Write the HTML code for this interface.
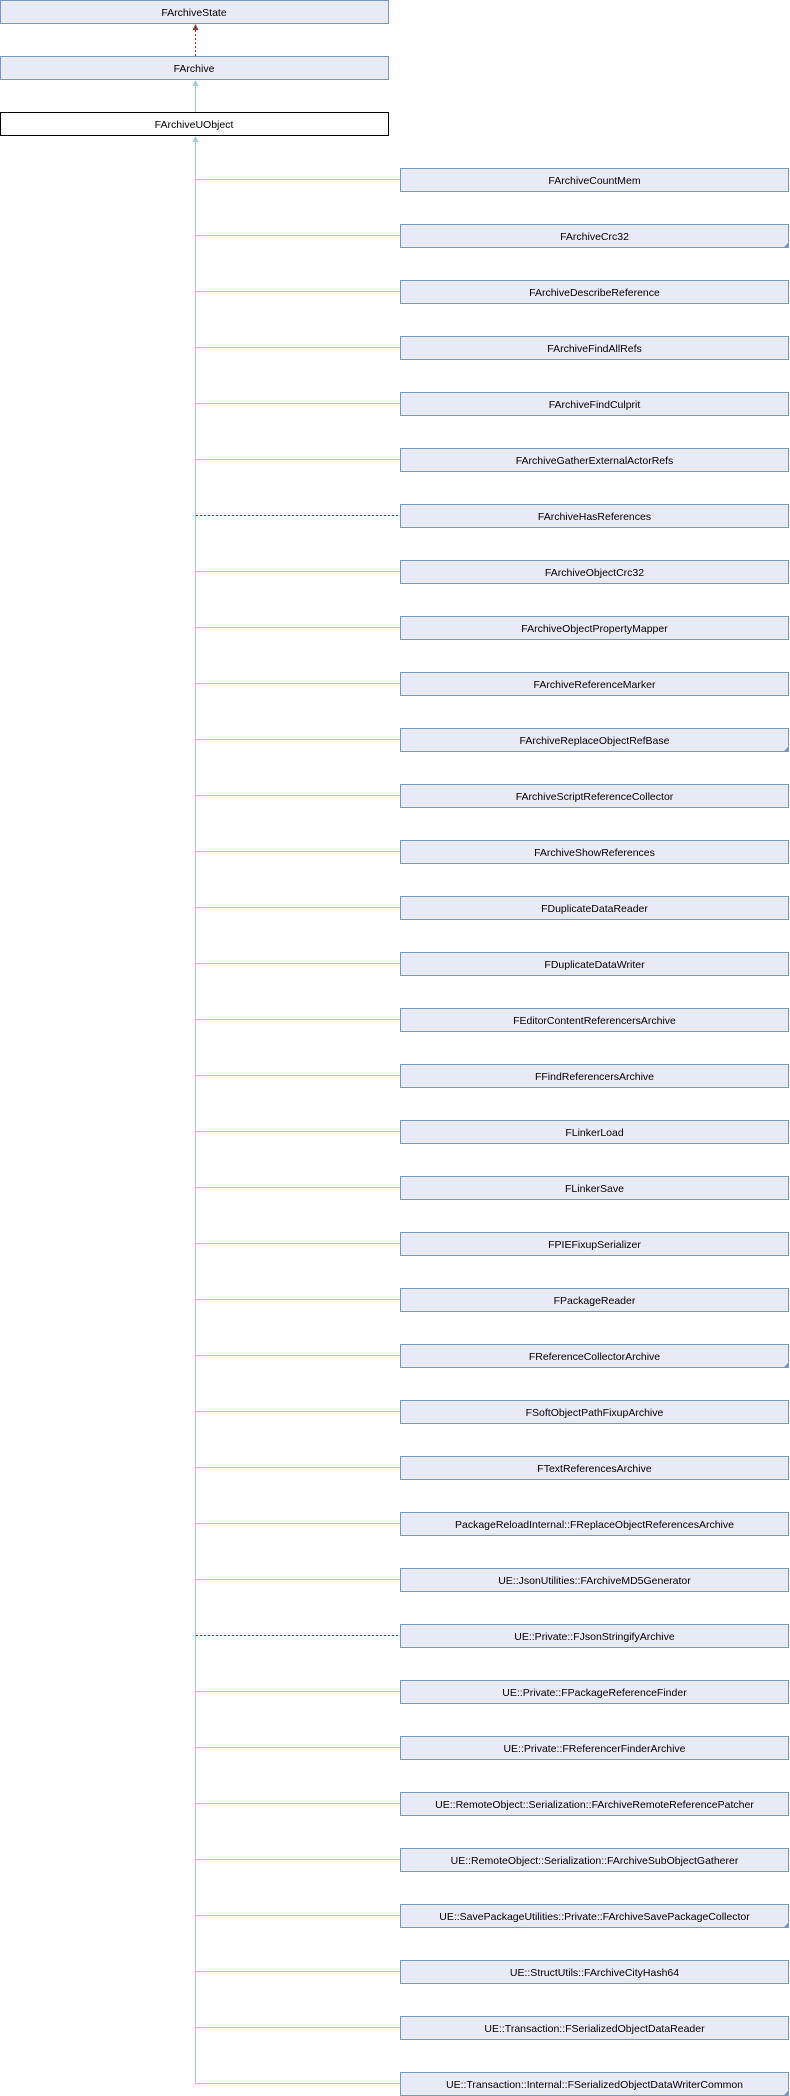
<!DOCTYPE html>
<html><head><meta charset="utf-8"><style>
html,body{margin:0;padding:0;background:#fff;}
svg{display:block;}
text{font-family:"Liberation Sans",sans-serif;font-size:10.5px;fill:#000;text-anchor:middle;}
line,rect{shape-rendering:crispEdges;}
</style></head><body>
<svg width="790" height="2096" viewBox="0 0 790 2096" xmlns="http://www.w3.org/2000/svg">
<rect x="0.5" y="0.5" width="388" height="23" fill="#e7ebf5" stroke="#7c95c8"/>
<text x="194" y="16">FArchiveState</text>
<rect x="0.5" y="56.5" width="388" height="23" fill="#e7ebf5" stroke="#7c95c8"/>
<text x="194" y="72">FArchive</text>
<rect x="0.5" y="112.5" width="388" height="23" fill="#fff" stroke="#000"/>
<text x="194" y="128">FArchiveUObject</text>
<line x1="195.5" y1="56" x2="195.5" y2="30" stroke="#b22" stroke-dasharray="2,2"/>
<polygon points="195.5,24 192.5,30 198.5,30" fill="#a33"/>
<line x1="195.5" y1="112" x2="195.5" y2="86" stroke="#9ccbe6"/>
<polygon points="195.5,80 192.5,86 198.5,86" fill="#9ccbe6"/>
<line x1="195.5" y1="2084" x2="195.5" y2="142" stroke="#9ccbe6"/>
<polygon points="195.5,136 192.5,142 198.5,142" fill="#9ccbe6"/>
<g id="kids"></g>
</svg>
<script>
var names=["FArchiveCountMem","FArchiveCrc32","FArchiveDescribeReference","FArchiveFindAllRefs","FArchiveFindCulprit","FArchiveGatherExternalActorRefs","FArchiveHasReferences","FArchiveObjectCrc32","FArchiveObjectPropertyMapper","FArchiveReferenceMarker","FArchiveReplaceObjectRefBase","FArchiveScriptReferenceCollector","FArchiveShowReferences","FDuplicateDataReader","FDuplicateDataWriter","FEditorContentReferencersArchive","FFindReferencersArchive","FLinkerLoad","FLinkerSave","FPIEFixupSerializer","FPackageReader","FReferenceCollectorArchive","FSoftObjectPathFixupArchive","FTextReferencesArchive","PackageReloadInternal::FReplaceObjectReferencesArchive","UE::JsonUtilities::FArchiveMD5Generator","UE::Private::FJsonStringifyArchive","UE::Private::FPackageReferenceFinder","UE::Private::FReferencerFinderArchive","UE::RemoteObject::Serialization::FArchiveRemoteReferencePatcher","UE::RemoteObject::Serialization::FArchiveSubObjectGatherer","UE::SavePackageUtilities::Private::FArchiveSavePackageCollector","UE::StructUtils::FArchiveCityHash64","UE::Transaction::FSerializedObjectDataReader","UE::Transaction::Internal::FSerializedObjectDataWriterCommon"];
var dotted={6:1,26:1},fold={1:1,10:1,21:1,31:1,34:1};
var s="";
names.forEach(function(n,i){var y=168+i*56;var m=y+12;
if(dotted[i])s+='<line x1="196" y1="'+(m-0.5)+'" x2="400" y2="'+(m-0.5)+'" stroke="#b22" stroke-dasharray="2,2"/>';
else s+='<line x1="195" y1="'+(m-0.5)+'" x2="400" y2="'+(m-0.5)+'" stroke="#9ccbe6"/>';
s+='<rect x="400.5" y="'+(y+0.5)+'" width="388" height="23" fill="#e7ebf5" stroke="#7c95c8"/>';
if(fold[i])s+='<polygon points="789,'+(y+18)+' 789,'+(y+24)+' 783,'+(y+24)+'" fill="#7c95c8"/>';
s+='<text x="594.5" y="'+(y+16)+'">'+n+'</text>';});
document.getElementById("kids").innerHTML=s;
</script>
</body></html>
